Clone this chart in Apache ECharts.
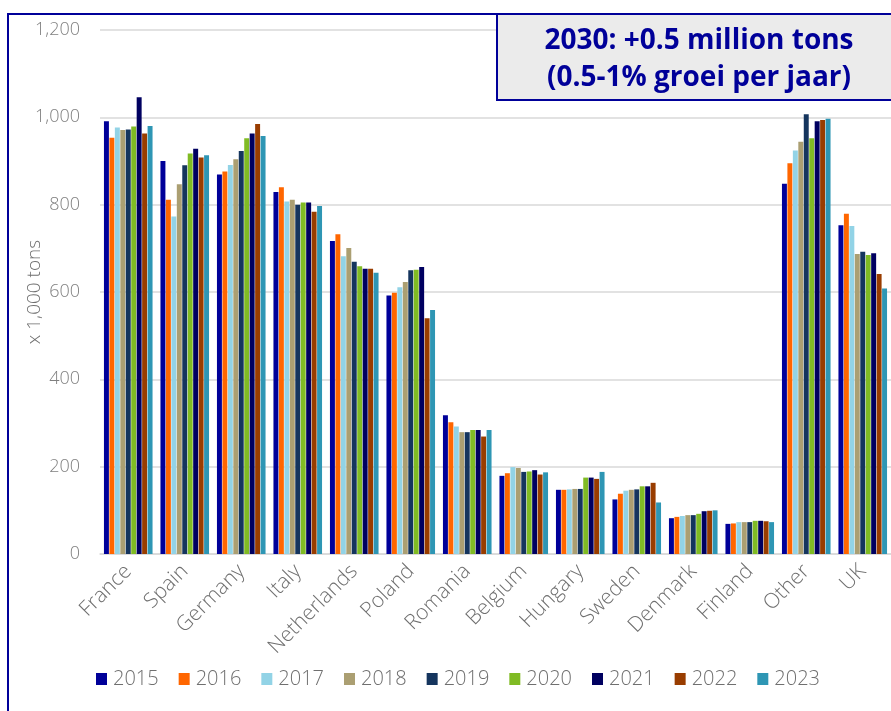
<!DOCTYPE html>
<html>
<head>
<meta charset="utf-8">
<script src="https://cdn.jsdelivr.net/npm/echarts@6/dist/echarts.min.js"></script>
<style>
  html, body { margin: 0; padding: 0; background: #fff; }
  #chart { width: 891px; height: 711px; }
</style>
</head>
<body>
<div id="chart"></div>
<script>
// Production per country, x 1,000 tons
const countries = ['France', 'Spain', 'Germany', 'Italy', 'Netherlands', 'Poland', 'Romania',
  'Belgium', 'Hungary', 'Sweden', 'Denmark', 'Finland', 'Other', 'UK'];
const years = ['2015', '2016', '2017', '2018', '2019', '2020', '2021', '2022', '2023'];
const yearColors = ['#000099', '#ff6600', '#92d3e6', '#ab9f72', '#15355e', '#80bb24', '#000060', '#993d00', '#2e96b4'];

const v2015 = [991, 900, 869, 829, 717, 592, 318, 179, 147, 125, 82, 69, 848, 753];
const v2016 = [953, 811, 876, 840, 732, 598, 302, 185, 147, 138, 85, 70, 895, 779];
const v2017 = [977, 773, 891, 807, 682, 611, 292, 199, 148, 145, 87, 73, 924, 751];
const v2018 = [971, 847, 904, 811, 701, 623, 279, 197, 149, 147, 89, 73, 944, 687];
const v2019 = [972, 890, 923, 800, 669, 650, 279, 188, 149, 148, 89, 73, 1007, 692];
const v2020 = [979, 917, 952, 805, 659, 651, 284, 189, 175, 155, 92, 76, 952, 685];
const v2021 = [1046, 928, 963, 805, 653, 657, 284, 192, 175, 155, 98, 76, 991, 689];
const v2022 = [963, 908, 985, 784, 653, 540, 269, 182, 172, 163, 99, 75, 994, 641];
const v2023 = [980, 913, 957, 797, 644, 559, 284, 187, 188, 118, 100, 73, 997, 608];
const seriesValues = [v2015, v2016, v2017, v2018, v2019, v2020, v2021, v2022, v2023];

const yTicks = { min: 0, max: 1200, interval: 200 };

const chart = echarts.init(document.getElementById('chart'));
const font = "'Open Sans', 'Noto Sans', sans-serif";
const textGrey = '#6f6f6f';

chart.setOption({
  animation: false,
  backgroundColor: '#ffffff',
  grid: { left: 100, right: -3, top: 30, bottom: 157, containLabel: false },
  legend: {
    left: 91, top: 664,
    itemWidth: 11, itemHeight: 12, itemGap: 20,
    icon: 'rect',
    textStyle: { fontFamily: font, fontWeight: 300, fontSize: 20, color: textGrey, padding: [0, 0, 0, 1] },
    data: years
  },
  xAxis: {
    type: 'category',
    data: countries,
    axisLine: { lineStyle: { color: '#d9d9d9', width: 1.5 } },
    axisTick: { show: false },
    axisLabel: { rotate: 45, margin: 14, fontFamily: font, fontWeight: 300, fontSize: 21, color: textGrey, interval: 0 }
  },
  yAxis: {
    type: 'value',
    min: yTicks.min, max: yTicks.max, interval: yTicks.interval,
    name: 'x 1,000 tons',
    nameLocation: 'middle',
    nameGap: 56,
    nameMoveOverlap: false,
    nameTextStyle: { fontFamily: font, fontWeight: 300, fontSize: 19, color: textGrey },
    axisLine: { show: false },
    axisTick: { show: false },
    splitLine: { lineStyle: { color: '#d9d9d9', width: 1.5 } },
    axisLabel: {
      margin: 20, fontFamily: font, fontWeight: 300, fontSize: 18, color: '#7f7f7f',
      formatter: v => v.toLocaleString('en-US')
    }
  },
  series: years.map((y, i) => ({
    name: y,
    type: 'bar',
    data: seriesValues[i],
    barGap: '10%',
    barCategoryGap: '14%',
    itemStyle: { color: yearColors[i] }
  })),
  graphic: [
    {
      type: 'rect', z: 100, silent: true,
      shape: { x: 8, y: 14, width: 900, height: 720 },
      style: { fill: 'none', stroke: '#000099', lineWidth: 2 }
    },
    {
      type: 'rect', z: 101,
      shape: { x: 497, y: 14, width: 400, height: 86 },
      style: { fill: '#ebebeb', stroke: '#000099', lineWidth: 2 }
    },
    {
      type: 'text', z: 102,
      x: 699, y: 41,
      style: {
        text: '2030: +0.5 million tons',
        fontFamily: font, fontWeight: 'bold', fontSize: 28, fill: '#000099',
        align: 'center', verticalAlign: 'middle'
      }
    },
    {
      type: 'text', z: 102,
      x: 699, y: 78,
      style: {
        text: '(0.5-1% groei per jaar)',
        fontFamily: font, fontWeight: 'bold', fontSize: 28, fill: '#000099',
        align: 'center', verticalAlign: 'middle'
      }
    }
  ]
});
</script>
</body>
</html>
